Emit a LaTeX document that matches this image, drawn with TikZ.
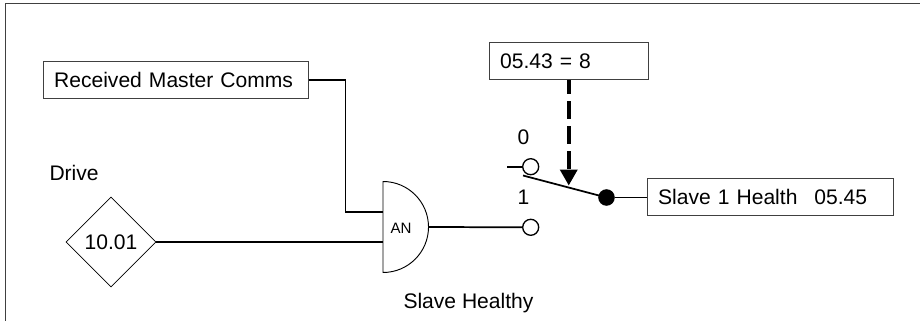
\documentclass[tikz,border=0pt]{standalone}
\usepackage{fontspec}
\setmainfont{Liberation Sans}
\usetikzlibrary{shapes.geometric,arrows.meta}

\tikzset{every picture/.style={line width=0.75pt}}
\tikzset{
  label/.style={font=\fontsize{15.8pt}{18pt}\selectfont,inner sep=0pt},
  infobox/.style={draw=black!75,label,align=left,minimum height=28.1pt,inner xsep=8pt,inner ysep=0pt},
  wire/.style={line width=1.3pt},
  pin/.style={circle,draw,line width=1pt,fill=white,minimum size=12pt,inner sep=0pt},
}

\begin{document}
\begin{tikzpicture}[x=0.75pt,y=0.75pt,yscale=-1,xscale=1]
\useasboundingbox (0,0) rectangle (920,321);

%frame
\draw [draw=black!75] (920,4) -- (5.5,4) -- (5.5,321) ;

%boxes
\node [infobox,text width=182.4pt] (master) at (175.75,79.75) {Received Master Comms};
\node [infobox,text width=102.9pt] (mode) at (568.75,60.75) {05.43 = 8};
\node [infobox,text width=168.5pt] (health) at (770.5,197) {Slave 1 Health\hspace{12.7pt}05.45};
\node [diamond,draw,label,minimum width=67.5pt,minimum height=67.5pt,line width=0.6pt] (drive) at (111,242) {10.01};

%gate
\draw [line width=0.7pt] (383,181.5) arc (-90:90:45.5) -- cycle ;
\node [font=\fontsize{11.3pt}{13pt}\selectfont,inner sep=0pt] (gate) at (401,228.5) {AN};
\coordinate (gatea) at (383,212);
\coordinate (gateb) at (383,242);
\coordinate (gateout) at (428.5,227);
\coordinate (bend) at (345.5,146);

%switch
\node [pin] (pinz) at (530.7,166.7) {};
\node [pin] (pino) at (530.7,227.3) {};
\node [circle,fill=black,minimum size=12.4pt,inner sep=0pt] (pivot) at (606.5,197.5) {};
\coordinate (stub) at (507,166.7);
\coordinate (armend) at (523,175.5);
\coordinate (armtip) at (568.75,185.5);

%connectors
\draw [wire] (master.east) -| (bend) |- (gatea) ;
\draw [wire] (drive.east) -- (gateb) ;
\draw [wire] (gateout) -- (pino.west) ;
\draw [wire] (stub) -- (pinz.west) ;
\draw [wire] (armend) -- (pivot.center) ;
\draw [wire] (pivot.east) -- (health.west |- pivot.east) ;
\draw [line width=2.8pt,dash pattern=on 13.1pt off 5.6pt,dash phase=2.6pt,-{Triangle[length=12pt,width=12.75pt]}] (mode.south) -- (armtip) ;

%text
\node [label,anchor=base west] (drivetext) at (49,180) {Drive};
\node [label,anchor=base] (zero) at (523.5,144) {0};
\node [label,anchor=base] (one) at (523.5,204) {1};
\node [label,anchor=base west] (slave) at (403,308.5) {Slave Healthy};

\end{tikzpicture}
\end{document}
